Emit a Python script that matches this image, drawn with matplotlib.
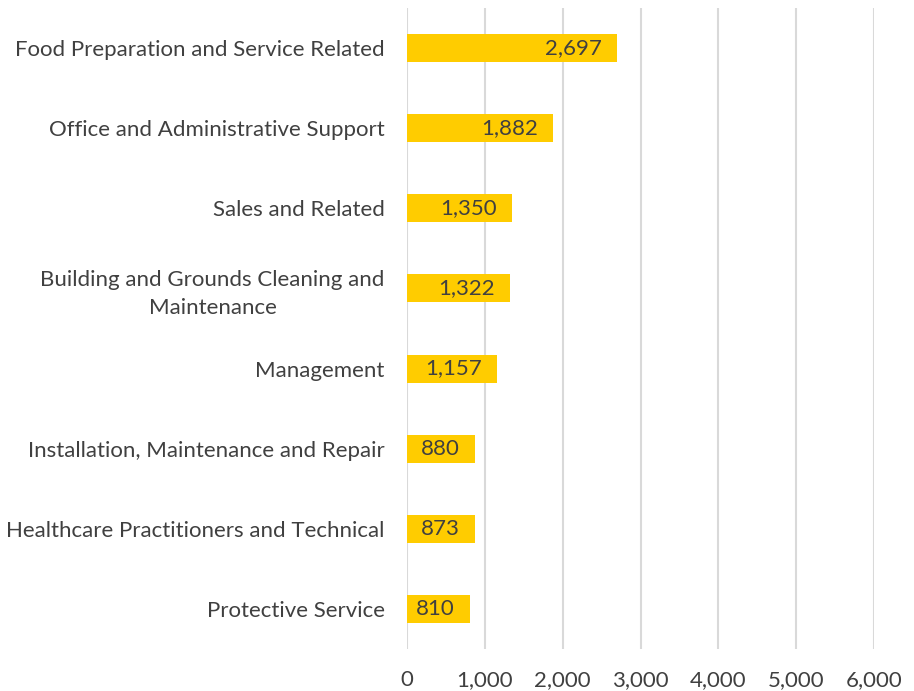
import matplotlib
matplotlib.use("Agg")
import matplotlib.pyplot as plt
from matplotlib.ticker import FuncFormatter

categories = [
    "Food Preparation and Service Related",
    "Office and Administrative Support",
    "Sales and Related",
    "Building and Grounds Cleaning and\nMaintenance",
    "Management",
    "Installation, Maintenance and Repair",
    "Healthcare Practitioners and Technical",
    "Protective Service",
]
values = [2697, 1882, 1350, 1322, 1157, 880, 873, 810]
x_ticks = [0, 1000, 2000, 3000, 4000, 5000, 6000]

plt.rcParams['font.family'] = ['Lato', 'DejaVu Sans']
text_color = '#404040'
bar_color = '#FFCC00'
grid_color = '#D9D9D9'
fs = 16

fig = plt.figure(figsize=(9.14, 6.91), dpi=100)
ax = fig.add_axes([407/914, 42/691, 467/914, 641/691])

pos = list(range(len(categories)))
bars = ax.barh(pos, values, height=0.35, color=bar_color, zorder=3)

ax.set_xlim(0, 6000)
ax.set_ylim(len(categories) - 0.5, -0.5)
ax.set_xticks(x_ticks)
ax.xaxis.set_major_formatter(FuncFormatter(lambda v, p: f"{int(v):,}"))
ax.set_yticks(pos)
ax.set_yticklabels(categories, multialignment='center', linespacing=1.45)

ax.grid(axis='x', color=grid_color, linewidth=1.5, zorder=0)
ax.grid(axis='y', visible=False)
for s in ax.spines.values():
    s.set_visible(False)
ax.tick_params(axis='both', length=0, labelsize=fs, labelcolor=text_color)
ax.tick_params(axis='y', pad=16)
ax.tick_params(axis='x', pad=15)

for rect, v in zip(bars, values):
    ax.annotate(f"{v:,}", xy=(v, rect.get_y() + rect.get_height() / 2),
                xytext=(-11, 0), textcoords='offset points',
                ha='right', va='center', fontsize=fs, color=text_color, zorder=4)

fig.savefig("out.png", dpi=100)
